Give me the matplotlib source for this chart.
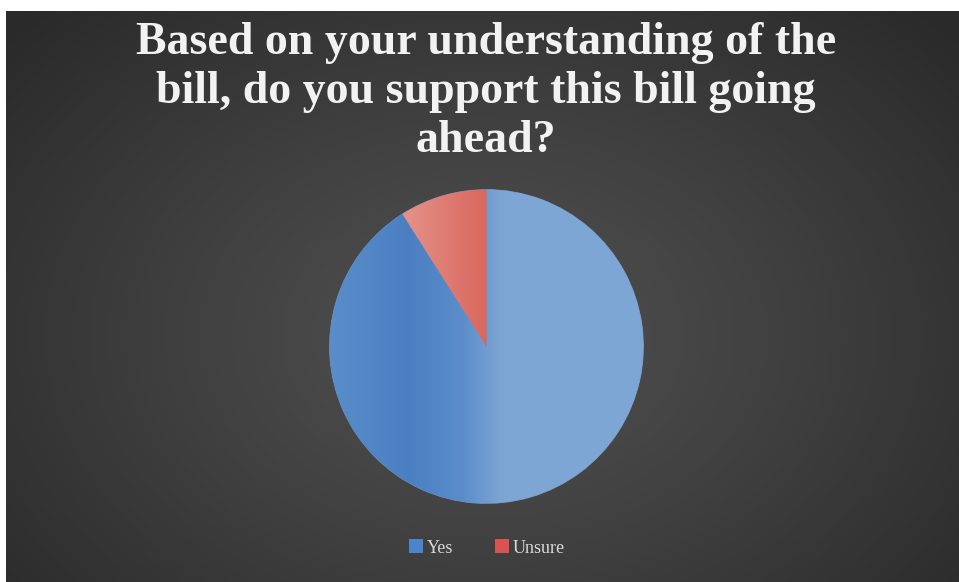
import matplotlib
matplotlib.use("Agg")
import matplotlib.pyplot as plt
import numpy as np
from matplotlib.colors import LinearSegmentedColormap
from matplotlib.patches import Patch

# data
labels = ["Yes", "Unsure"]
values = [91, 9]
colors = ["#7fa6d4", "#df8178"]
legend_colors = ["#4a84cc", "#d9534f"]
title = "Based on your understanding of the\nbill, do you support this bill going\nahead?"

W, H, DPI = 959, 582, 100
fig = plt.figure(figsize=(W / DPI, H / DPI), dpi=DPI, facecolor="white")

# dark background panel with a soft radial glow
bg = fig.add_axes([6 / W, 0, 1 - 6 / W, 1 - 11 / H])
bg.set_axis_off()
yy, xx = np.mgrid[0:300, 0:500]
d = np.sqrt(((xx - 250) / 290.0) ** 2 + ((yy - 170) / 210.0) ** 2)
bg_cmap = LinearSegmentedColormap.from_list("bg", ["#525252", "#3f3f3f", "#2a2a2a"])
bg.imshow(d, cmap=bg_cmap, vmin=0, vmax=1.15, aspect="auto", interpolation="bilinear")

# pie
cx, cy, r = 486.5, 346.5, 158.5
ax = fig.add_axes([(cx - r) / W, 1 - (cy + r) / H, 2 * r / W, 2 * r / H])
wedges, _ = ax.pie(values, colors=colors, startangle=90, counterclock=False,
                   radius=1, wedgeprops=dict(linewidth=0.6, edgecolor="#6f8fb5"))
ax.set_xlim(-1.01, 1.01)
ax.set_ylim(-1.01, 1.01)
ax.set_aspect("equal")
ax.set_axis_off()

# office-like gradient shading inside the slices
blue = LinearSegmentedColormap.from_list(
    "blue", [(0.0, "#5a8dca"), (0.25, "#4a7fc2"), (0.42, "#5b8dca"),
             (0.55, "#7ea6d5"), (1.0, "#7fa6d4")])
grad = np.tile(np.linspace(0, 1, 256), (2, 1))
im = ax.imshow(grad, cmap=blue, extent=(-1, 1, -1, 1), aspect="auto",
               interpolation="bilinear", zorder=0.5)
im.set_clip_path(wedges[0])
red = LinearSegmentedColormap.from_list("red", ["#e4928a", "#d9675d"])
gx = np.linspace(-0.53, 0, 256)
im2 = ax.imshow(np.tile(gx, (2, 1)), cmap=red, extent=(-0.53, 0, 0, 1), aspect="auto",
                interpolation="bilinear", zorder=0.5)
im2.set_clip_path(wedges[1])
for w in wedges:
    w.set_zorder(0.4)

fig.text(486 / W, 1 - 22 / H, title, ha="center", va="top", color="#f2f2f2",
         fontsize=33, fontweight="bold", family="Liberation Serif", linespacing=1.22)

handles = [Patch(facecolor=c, edgecolor="none") for c in legend_colors]
fig.legend(handles, labels, loc="center", bbox_to_anchor=(487 / W, 1 - 548 / H), ncol=2,
           frameon=False, handlelength=0.8, handleheight=0.8, handletextpad=0.2,
           columnspacing=2.3, prop=dict(family="Liberation Serif", size=13),
           labelcolor="#d9d9d9")

fig.savefig("out.png", dpi=DPI, facecolor="white")
